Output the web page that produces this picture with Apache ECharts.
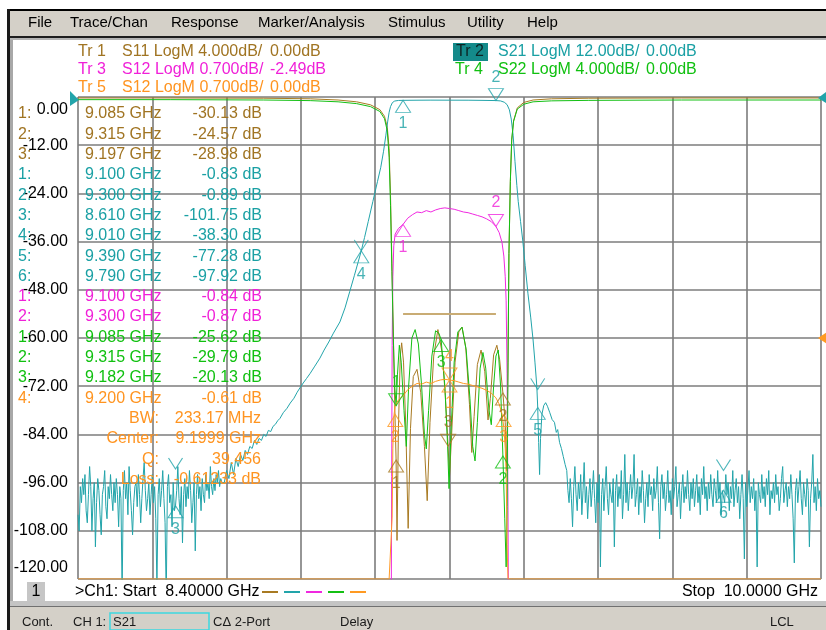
<!DOCTYPE html>
<html><head><meta charset="utf-8">
<script src="https://cdn.jsdelivr.net/npm/echarts@6/dist/echarts.min.js"></script>
<style>html,body{margin:0;padding:0;background:#fff}#c{width:826px;height:630px}</style>
</head><body><div id="c"></div><script>
// ---------------- DATA ----------------
const startGHz = 8.4, stopGHz = 10.0;
const menuItems = ['File','Trace/Chan','Response','Marker/Analysis','Stimulus','Utility','Help'];
const traceNames  = ['Tr 1','Tr 2','Tr 3','Tr 4','Tr 5'];
const traceParams = ['S11','S21','S12','S22','S12'];
const traceScale  = [4.0, 12.0, 0.7, 4.0, 0.7];      // dB / div
const traceRef    = [0.00, 0.00, -2.49, 0.00, 0.00];   // dB
const traceRefPos = [10, 10, 5, 10, 5];                // reference position (divisions from bottom)
const traceScaleText = ['4.000','12.00','0.700','4.000','0.700'];

// S11 (Tr1) trace  [GHz, dB]
const s11Trace = [[8.400,-0.08],[8.600,-0.08],[8.800,-0.10],[8.900,-0.15],[8.960,-0.25],[9.000,-0.40],[9.030,-0.65],[9.050,-1.05],[9.060,-1.60],[9.066,-2.5],[9.070,-4.3],[9.073,-8.2],[9.076,-13.8],[9.079,-19.5],[9.082,-25.5],[9.085,-30.13],[9.087,-36.8],[9.090,-27.5],[9.094,-21.5],[9.097,-20.4],[9.101,-22.0],[9.106,-27.5],[9.111,-35.8],[9.116,-27.5],[9.122,-23.2],[9.130,-22.6],[9.138,-24.5],[9.146,-29.0],[9.152,-33.5],[9.158,-27.0],[9.166,-21.5],[9.175,-19.3],[9.184,-21.2],[9.191,-24.8],[9.197,-28.98],[9.200,-31.5],[9.204,-28.5],[9.212,-22.0],[9.220,-19.5],[9.227,-19.1],[9.235,-20.8],[9.243,-25.5],[9.248,-29.5],[9.253,-26.5],[9.260,-22.2],[9.268,-21.0],[9.276,-22.8],[9.283,-26.8],[9.288,-25.0],[9.295,-21.4],[9.302,-20.6],[9.308,-21.8],[9.315,-24.57],[9.320,-27.0],[9.323,-31.0],[9.326,-22.0],[9.328,-13.0],[9.331,-7.0],[9.334,-3.6],[9.338,-2.0],[9.346,-0.90],[9.360,-0.45],[9.380,-0.25],[9.420,-0.15],[9.500,-0.10],[9.700,-0.08],[10.000,-0.08]];

// S22 (Tr4) trace
const s22Trace = [[8.400,-0.22],[8.600,-0.22],[8.800,-0.25],[8.900,-0.30],[8.960,-0.40],[9.000,-0.55],[9.030,-0.80],[9.050,-1.20],[9.060,-1.80],[9.066,-2.8],[9.070,-5.0],[9.073,-9.0],[9.076,-14.5],[9.079,-20.0],[9.082,-24.0],[9.085,-25.62],[9.088,-23.0],[9.092,-20.6],[9.096,-22.0],[9.102,-26.0],[9.107,-29.0],[9.112,-24.0],[9.119,-20.0],[9.126,-19.3],[9.133,-20.5],[9.140,-24.0],[9.146,-28.0],[9.150,-29.2],[9.155,-26.0],[9.162,-21.5],[9.170,-19.4],[9.177,-19.6],[9.182,-20.13],[9.190,-24.0],[9.196,-29.0],[9.199,-32.5],[9.203,-28.0],[9.210,-22.0],[9.218,-19.5],[9.227,-19.1],[9.236,-21.0],[9.244,-25.0],[9.250,-29.0],[9.255,-30.2],[9.260,-27.0],[9.266,-22.5],[9.272,-21.2],[9.278,-22.5],[9.285,-26.0],[9.290,-27.2],[9.295,-24.0],[9.300,-21.5],[9.305,-21.0],[9.310,-24.0],[9.315,-29.79],[9.319,-35.0],[9.322,-39.0],[9.324,-34.0],[9.326,-22.0],[9.328,-13.0],[9.331,-7.0],[9.334,-3.5],[9.338,-2.0],[9.346,-1.0],[9.360,-0.60],[9.380,-0.40],[9.420,-0.32],[9.500,-0.28],[9.700,-0.25],[10.000,-0.25]];

// S12 trace (shown as Tr3 and Tr5)
const s12Trace = [[8.400,-60],[9.040,-40],[9.070,-15],[9.074,-7.5],[9.0755,-4.5],[9.0765,-2.6],[9.078,-1.6],[9.080,-1.15],[9.083,-0.98],[9.090,-0.90],[9.100,-0.84],[9.110,-0.75],[9.120,-0.70],[9.130,-0.66],[9.140,-0.67],[9.150,-0.64],[9.160,-0.66],[9.170,-0.63],[9.180,-0.61],[9.190,-0.60],[9.200,-0.61],[9.210,-0.62],[9.220,-0.64],[9.230,-0.66],[9.240,-0.67],[9.250,-0.69],[9.260,-0.71],[9.270,-0.73],[9.280,-0.76],[9.290,-0.80],[9.300,-0.87],[9.307,-0.96],[9.313,-1.10],[9.317,-1.30],[9.320,-1.60],[9.322,-1.95],[9.324,-3.0],[9.326,-5.0],[9.328,-8.0],[9.335,-20],[9.400,-45],[10.000,-60]];

// S21 (Tr2): noise-floor sweep points + filter skirts
const sweepStep = 0.0025;
const s21NoiseLoStart = 8.400;
const s21NoiseLo = [
  -104,-108,-97,-101,-95,-99,-94,-103,-106,-99,
  -92,-97,-108,-100,-96,-112,-101,-95,-98,-104,
  -109,-99,-97,-93,-102,-105,-97,-100,-94,-99,
  -103,-96,-101,-95,-99,-107,-97,-100,-124,-98,
  -93,-100,-96,-104,-92,-98,-103,-109,-101,-97,
  -96,-102,-94,-99,-106,-100,-95,-91,-98,-103,
  -100,-96,-104,-99,-94,-101,-97,-105,-122,-99,
  -95,-102,-98,-93,-100,-106,-125,-97,-94,-101,
  -99,-107,-96,-103,-101.75,-98,-92,-100,-104,-97,
  -111,-99,-95,-102,-97,-100,-93,-98,-106,-101,
  -96,-113,-99,-94,-100,-97,-103,-95,-99,-101,
  -94,-98,-96,-100,-92,-97,-99,-95,-98,-94,
  -96,-93,-97,-95,-96];
const s21Skirts = [[8.715,-96],[8.720,-93],[8.725,-95],[8.730,-91],[8.735,-94],[8.740,-90],[8.745,-92],[8.750,-89],[8.755,-90.5],[8.760,-88],[8.765,-89],[8.770,-87],[8.775,-87.5],[8.780,-85.5],[8.785,-86.5],[8.790,-85],[8.795,-85.5],[8.800,-84],[8.805,-84.5],[8.810,-83],[8.815,-83.3],[8.820,-82],[8.825,-81.5],[8.830,-80.6],[8.835,-80],[8.842,-78.6],[8.850,-77.5],[8.857,-76.2],[8.865,-75],[8.872,-73.5],[8.878,-72.4],[8.885,-71.2],[8.892,-70.1],[8.900,-68.8],[8.910,-67],[8.921,-65],[8.930,-63],[8.940,-61],[8.950,-58.8],[8.964,-56],[8.975,-52.5],[8.985,-48.5],[8.995,-44.5],[9.003,-41.2],[9.010,-38.30],[9.017,-35],[9.025,-31],[9.035,-26],[9.045,-21],[9.052,-17.5],[9.058,-13.5],[9.063,-9.5],[9.067,-6],[9.070,-3.8],[9.073,-2.4],[9.077,-1.4],[9.082,-1.0],[9.090,-0.86],[9.100,-0.83],[9.130,-0.80],[9.160,-0.78],[9.200,-0.79],[9.240,-0.80],[9.270,-0.84],[9.300,-0.89],[9.310,-0.98],[9.318,-1.3],[9.324,-1.9],[9.329,-3.2],[9.333,-5.5],[9.337,-9.5],[9.341,-16],[9.345,-22],[9.348,-26],[9.353,-31],[9.358,-36],[9.363,-42],[9.369,-49],[9.375,-55],[9.380,-60.5],[9.384,-66],[9.388,-72],[9.390,-77.28],[9.392,-86],[9.394,-94],[9.396,-85],[9.399,-79],[9.403,-76.8],[9.407,-76.1],[9.411,-77],[9.416,-78.6],[9.421,-80.3],[9.426,-81],[9.430,-83.5],[9.433,-82.8],[9.437,-86],[9.441,-87.5],[9.445,-89.5],[9.449,-91.5]];
const s21NoiseHiStart = 9.4525;
const s21NoiseHi = [
  -93,-98,-101,-95,-100,-107,-97,-92,-99,-103,
  -96,-100,-94,-104,-98,-91,-101,-97,-105,-99,
  -95,-102,-98,-93,-100,-106,-96,-101,-94,-117,
  -99,-95,-103,-97,-92,-100,-104,-96,-99,-101,
  -95,-112,-98,-94,-102,-97,-100,-93,-105,-99,
  -89,-101,-96,-103,-98,-94,-100,-97,-89,-102,
  -99,-95,-104,-97,-101,-93,-98,-106,-100,-96,
  -102,-94,-99,-97,-103,-95,-100,-98,-92,-101,
  -110,-97,-94,-100,-96,-103,-99,-93,-101,-98,
  -104,-95,-100,-97,-92,-102,-99,-96,-105,-98,
  -94,-101,-97,-100,-93,-99,-103,-96,-100,-95,
  -102,-98,-94,-101,-97,-104,-95,-99,-92,-100,
  -97,-103,-96,-100,-94,-99,-102,-95,-98,-101,
  -93,-100,-96,-104,-98,-97.92,-101,-94,-99,-96,
  -103,-97,-100,-93,-102,-98,-95,-101,-97,-105,
  -99,-94,-100,-115,-96,-102,-98,-93,-101,-97,
  -100,-95,-103,-98,-117,-96,-99,-101,-94,-100,
  -97,-102,-95,-99,-93,-104,-98,-100,-96,-101,
  -94,-99,-97,-103,-100,-95,-92,-101,-98,-96,
  -102,-97,-100,-94,-99,-105,-116,-98,-95,-101,
  -97,-93,-100,-104,-96,-99,-102,-95,-98,-112,
  -100,-96,-89,-101,-97,-103,-95,-100,-98,-102];

// S11 limit line
const limitFreq = [9.100, 9.300];
const limitVal  = [-18, -18];

// markers
const mk1 = {num:['1','2','3'], freq:[9.085,9.315,9.197], val:[-30.13,-24.57,-28.98], active:['3']};
const mk2 = {num:['1','2','3','4','5','6'], freq:[9.100,9.300,8.610,9.010,9.390,9.790], val:[-0.83,-0.89,-101.75,-38.30,-77.28,-97.92], active:['2']};
const mk3 = {num:['1','2'], freq:[9.100,9.300], val:[-0.84,-0.87], active:['2']};
const mk4 = {num:['1','2','3'], freq:[9.085,9.315,9.182], val:[-25.62,-29.79,-20.13], active:['1']};
const mk5 = {num:['1','2','3','4'], freq:[9.200,9.0833,9.3165,9.200], val:[-0.61,-1.11,-1.11,-0.61], active:['4']};
const mk5Table = ['4'];
// S21 trace readout chevrons (markers 3,4,5,6)
const chevFreq = [8.610, 9.010, 9.390, 9.790];
const chevVal  = [-92.6, -38.30, -72.8, -93.0];
// bandwidth search results
const bwLabels = ['BW:','Center:','Q:','Loss:'];
const bwValues = ['233.17 MHz','9.1999 GHz','39.456','-0.61233 dB'];
const statusItems = ['Cont.','CH 1:','S21','C\u0394 2-Port','Delay','LCL'];

// ---------------- STYLE ----------------
const FONT = '"Liberation Sans", Arial, sans-serif';
const colors = ['#A87A22','#22A4AA','#F028E0','#14C014','#FF9A22'];
const textColors = ['#A07422','#1AA0A4','#F020D8','#10C010','#FF9420'];
const gridColor = '#7c7c7c';

// ---------------- BUILD ----------------
const axisMin = traceRef.map((r,i)=> r - traceRefPos[i]*traceScale[i]);
const axisMax = traceRef.map((r,i)=> r + (10-traceRefPos[i])*traceScale[i]);
const r2 = v => Math.round(v*1e6)/1e6;
// the analyzer pins off-scale points of Tr5 to the graticule edge
function clampData(arr, ti){
  return arr.map(p => [p[0], Math.max(axisMin[ti], Math.min(axisMax[ti], p[1]))]);
}
const s21Trace = s21NoiseLo.map((v,i)=>[r2(s21NoiseLoStart+i*sweepStep), v])
  .concat(s21Skirts)
  .concat(s21NoiseHi.map((v,i)=>[r2(s21NoiseHiStart+i*sweepStep), v]));

function lineSeries(name, data, ti, yIdx, z, pin){
  return {type:'line', name, data: pin ? clampData(data, ti) : data, xAxisIndex:0, yAxisIndex:yIdx,
    showSymbol:false, symbol:'none', silent:true, animation:false, z:z,
    lineStyle:{color:colors[ti], width:1}, clip:true};
}
const UP = 'path://M8,0L16,13L0,13Z', DOWN = 'path://M0,0L16,0L8,13Z', VEE = 'path://M0,0L8,12L16,0';
function markerSeries(mk, ti, yIdx){
  return {type:'scatter', xAxisIndex:0, yAxisIndex:yIdx, clip:false, silent:true, z:6, animation:false,
    itemStyle:{color:'rgba(255,255,255,0)', borderColor:colors[ti], borderWidth:1},
    data: mk.num.map((n,i)=>{
      const down = mk.active.includes(n);
      return {value:[mk.freq[i], mk.val[i]], symbol: down?DOWN:UP, symbolSize:[15,12],
        symbolOffset:[0, down?-6:6],
        label:{show:true, formatter:n, position: down?'top':'bottom', distance:3,
          color:textColors[ti], fontSize:16, fontFamily:FONT}};
    })};
}

const series = [
  {type:'line', data: limitFreq.map((f,i)=>[f,limitVal[i]]), xAxisIndex:0, yAxisIndex:1, showSymbol:false, symbol:'none', silent:true, z:2,
    lineStyle:{color:'#C9AC74', width:2}},
  lineSeries('Tr1', s11Trace, 0, 1, 2, false),
  lineSeries('Tr2', s21Trace, 1, 0, 3, false),
  lineSeries('Tr3', s12Trace, 2, 2, 2, false),
  lineSeries('Tr4', s22Trace, 3, 1, 3, false),
  lineSeries('Tr5', s12Trace, 4, 3, 4, true),
  markerSeries(mk1, 0, 1),
  markerSeries(mk2, 1, 0),
  markerSeries(mk3, 2, 2),
  markerSeries(mk4, 3, 1),
  markerSeries(mk5, 4, 3),
  {type:'scatter', xAxisIndex:0, yAxisIndex:0, clip:false, silent:true, z:6,
    symbol:VEE, symbolSize:[14,11], symbolOffset:[0,-5.5],
    itemStyle:{color:'rgba(255,255,255,0)', borderColor:colors[1], borderWidth:1},
    data: chevFreq.map((f,i)=>[f, chevVal[i]])}
];

const hiddenY = i => ({type:'value', min:axisMin[i], max:axisMax[i], show:false});
const option = {
  animation:false,
  backgroundColor:'#ffffff',
  grid:{left:78, top:97, width:743, height:482, show:false},
  xAxis:[
    {type:'value', min:startGHz, max:stopGHz, show:false},
    {type:'value', min:0, max:10, interval:1, position:'bottom',
      axisLine:{show:false}, axisTick:{show:false}, axisLabel:{show:false},
      splitLine:{show:true, lineStyle:{color:gridColor, width:1.6}}}
  ],
  yAxis:[
    {type:'value', min:axisMin[1], max:axisMax[1], interval:traceScale[1], position:'left',
      axisLine:{show:false}, axisTick:{show:false},
      axisLabel:{show:true, color:'#000', fontSize:16, fontFamily:FONT, margin:10,
        formatter: v => v === axisMax[1] ? '{hi|'+v.toFixed(2)+'}' : (v === axisMin[1] ? '{lo|'+v.toFixed(2)+'}' : v.toFixed(2)),
        rich:{hi:{fontSize:16, fontFamily:FONT, color:'#000', padding:[5,0,0,0]},
              lo:{fontSize:16, fontFamily:FONT, color:'#000', padding:[0,0,3,0]}},
        verticalAlignMaxLabel:'top', verticalAlignMinLabel:'bottom'},
      splitLine:{show:true, lineStyle:{color:gridColor, width:1.6}}},
    hiddenY(0), hiddenY(2), hiddenY(4)
  ],
  series
};

const chart = echarts.init(document.getElementById('c'), null, {renderer:'canvas'});
chart.setOption(option);

// ---------------- TEXT / FRAME GRAPHICS ----------------
const G = [];
function rect(x,y,w,h,fill,extra){G.push(Object.assign({type:'rect', shape:{x,y,width:w,height:h}, style:{fill}, z:1, silent:true}, extra||{}));}
function text(x,y,t,fill,size,align){G.push({type:'text', x, y, z:60, silent:true,
  style:{text:t, fill, font:size+'px '+FONT, textAlign:align||'left', textVerticalAlign:'middle'}});}

// window frame & menu
rect(7,9,819,2,'#000000');
rect(7,11,819,25,'#D4D0C8');
rect(7,36,819,2,'#1e1e1e');
rect(7,38,819,2,'#B4B4B4');
rect(7,9,3,621,'#1a1a1a');
rect(10,40,3,562,'#A8A8A8');
rect(10,601,816,5,'#C4C4C4');
rect(10,606,816,1,'#707070');
rect(10,607,816,23,'#D4D0C8');
const menuX = [28,70,171,258,388,467,527];
menuItems.forEach((m,i)=>text(menuX[i],23,m,'#000',15));

// trace status header
const hdr = [
  {ti:0, x:78, y:52}, {ti:1, x:453, y:52}, {ti:2, x:78, y:70}, {ti:3, x:455, y:70}, {ti:4, x:78, y:88}
];
hdr.forEach(h=>{
  const ti = h.ti;
  const col = textColors[ti];
  const left = h.x < 300;
  const pX = left ? 122 : 498;
  const vX = left ? 270 : 646;
  if (ti === 1) {
    rect(h.x, h.y-9, 35, 18, '#148A8A', {z:55});
    text(h.x+3, h.y, traceNames[ti], '#0c2424', 16);
  } else {
    text(h.x, h.y, traceNames[ti], col, 16);
  }
  text(pX, h.y, traceParams[ti]+' LogM '+traceScaleText[ti]+'dB/', col, 16);
  text(vX, h.y, traceRef[ti].toFixed(2)+'dB', col, 16);
});

// marker table
const rows = [];
const addRows = (mk, ti, only) => mk.num.forEach((n,i)=>{ if(!only || only.includes(n)) rows.push({n, f:mk.freq[i], v:mk.val[i], ti}); });
addRows(mk1,0); addRows(mk2,1); addRows(mk3,2); addRows(mk4,3); addRows(mk5,4,mk5Table);
const rowY0 = 114, rowStep = 20.3;
rows.forEach((r,i)=>{
  const y = rowY0 + i*rowStep, c = textColors[r.ti];
  text(18, y, r.n+':', c, 16);
  text(85, y, r.f.toFixed(3)+' GHz', c, 16);
  text(262, y, r.v.toFixed(2)+' dB', c, 16, 'right');
});
bwLabels.forEach((l,i)=>{
  const y = rowY0 + (rows.length+i)*rowStep;
  text(159, y, l, textColors[4], 16, 'right');
  text(261, y, bwValues[i], textColors[4], 16, 'right');
});

// channel line
rect(27,582,18,19,'#C6C6C6',{z:55});
text(36,592,'1','#000',16,'center');
text(75,592,'>Ch1: Start  '+startGHz.toFixed(5)+' GHz','#000',16);
colors.forEach((c,i)=>G.push({type:'line', z:60, silent:true, shape:{x1:262+i*22, y1:592, x2:278+i*22, y2:592}, style:{stroke:c, lineWidth:2}}));
text(818,592,'Stop  '+stopGHz.toFixed(4)+' GHz','#000',16,'right');

// status bar
rect(110,613,99,17,'#D4D0C8',{z:55, style:{fill:'#D4D0C8', stroke:'#3CD8E0', lineWidth:1.5}});
const statusX = [22,73,113,213,340,770];
statusItems.forEach((s,i)=>text(statusX[i],622,s,'#1a1a1a',13));

// reference arrows (positions from the axis scales)
const yRef2 = chart.convertToPixel({yAxisIndex:0}, traceRef[1]);
const yRef5 = chart.convertToPixel({yAxisIndex:3}, traceRef[4]);
const xL = chart.convertToPixel({xAxisIndex:0}, startGHz);
const xR = chart.convertToPixel({xAxisIndex:0}, stopGHz);
G.push({type:'polygon', z:61, silent:true, shape:{points:[[xL-8,yRef2-6],[xL+1,yRef2+3],[xL-8,yRef2+9]]}, style:{fill:colors[1]}});
G.push({type:'polygon', z:61, silent:true, shape:{points:[[xR+5,yRef2-5],[xR-3,yRef2+1],[xR+5,yRef2+6]]}, style:{fill:colors[1]}});
G.push({type:'polygon', z:61, silent:true, shape:{points:[[xR+6,yRef5-6],[xR-3,yRef5],[xR+6,yRef5+6]]}, style:{fill:colors[4]}});

chart.setOption({graphic:{elements:G}});
</script></body></html>
